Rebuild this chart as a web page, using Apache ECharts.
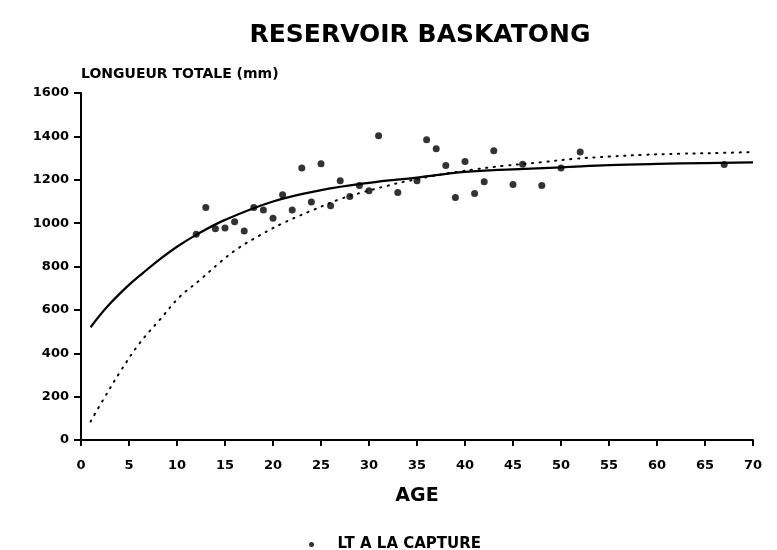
<!DOCTYPE html>
<html>
<head>
<meta charset="utf-8">
<script src="https://cdn.jsdelivr.net/npm/echarts@6/dist/echarts.min.js"></script>
<style>html,body{margin:0;padding:0;background:#fff}#c{width:777px;height:550px}</style>
</head>
<body>
<div id="c"></div>
<script>
// Observed lengths at capture: [age, length mm]
const capturePoints = [
  [12, 949], [13, 1072], [14, 974], [15, 977], [16, 1006], [17, 964],
  [18, 1072], [19, 1060], [20, 1023], [21, 1131], [22, 1060], [23, 1254],
  [24, 1097], [25, 1274], [26, 1080], [27, 1195], [28, 1123], [29, 1174],
  [30, 1149], [31, 1403], [33, 1141], [35, 1195], [36, 1384], [37, 1343],
  [38, 1266], [39, 1118], [40, 1284], [41, 1137], [42, 1191], [43, 1334],
  [45, 1178], [46, 1272], [48, 1174], [50, 1254], [52, 1328], [67, 1270]
];
// Solid growth curve
const solidCurve = [
  [1, 520], [2.7, 613], [4.8, 707], [6.5, 772], [8.2, 833], [10, 891],
  [12, 946], [15, 1015], [20, 1100], [25, 1152], [30, 1186], [35, 1210],
  [40, 1236], [45, 1248], [50, 1257], [55, 1267], [60, 1273], [65, 1277], [70, 1280]
];
// Dotted growth curve
const dottedCurve = [
  [1, 85], [2.3, 185], [4.2, 323], [6.1, 446], [8.2, 554], [10.3, 661],
  [12.4, 738], [14.5, 820], [16.4, 885], [18.6, 943], [20.9, 997], [22.6, 1031],
  [24.2, 1061], [26.8, 1108], [29.4, 1143], [31.9, 1172], [33.8, 1192],
  [36.4, 1215], [38.4, 1231], [41, 1248], [44, 1264], [48, 1281], [51.5, 1297],
  [55.1, 1307], [58.6, 1315], [62.4, 1320], [66.9, 1324], [70, 1328]
];
const xTicks = [0,5,10,15,20,25,30,35,40,45,50,55,60,65,70];
const yTicks = [0,200,400,600,800,1000,1200,1400,1600];

const FONT = 'DejaVu Sans';
const chart = echarts.init(document.getElementById('c'), null, {renderer: 'canvas'});
chart.setOption({
  backgroundColor: '#ffffff',
  animation: false,
  title: {
    text: 'RESERVOIR BASKATONG',
    left: 415, top: 18, textAlign: 'center',
    textStyle: {fontFamily: FONT, fontWeight: 'bold', fontSize: 25, color: '#000'}
  },
  grid: {left: 81, right: 24, top: 93, bottom: 110, containLabel: false},
  legend: {
    left: 304, top: 532,
    itemWidth: 10, itemHeight: 5, itemGap: 10,
    textStyle: {fontFamily: FONT, fontWeight: 'bold', fontSize: 15, color: '#000', padding: [0, 0, 0, 16]},
    data: [{name: 'LT A LA CAPTURE', icon: 'circle'}]
  },
  xAxis: {
    type: 'value', min: 0, max: 70, interval: 5,
    name: 'AGE', nameLocation: 'middle', nameGap: 47,
    nameTextStyle: {fontFamily: FONT, fontWeight: 'bold', fontSize: 19, color: '#000'},
    axisLine: {show: true, onZero: false, lineStyle: {color: '#000', width: 2}},
    axisTick: {show: true, length: 6, inside: false, lineStyle: {color: '#000', width: 2}},
    axisLabel: {
      margin: 19, color: '#000', fontFamily: FONT, fontWeight: 'bold', fontSize: 13,
      formatter: v => xTicks.includes(v) ? String(v) : ''
    },
    splitLine: {show: false}
  },
  yAxis: {
    type: 'value', min: 0, max: 1600, interval: 200,
    name: 'LONGUEUR TOTALE (mm)', nameLocation: 'end', nameGap: 12,
    nameTextStyle: {fontFamily: FONT, fontWeight: 'bold', fontSize: 14, color: '#000', align: 'left'},
    axisLine: {show: true, lineStyle: {color: '#000', width: 2}},
    axisTick: {show: true, length: 7, lineStyle: {color: '#000', width: 2}},
    axisLabel: {
      margin: 12, color: '#000', fontFamily: FONT, fontWeight: 'bold', fontSize: 13,
      formatter: v => yTicks.includes(v) ? String(v) : ''
    },
    splitLine: {show: false}
  },
  series: [
    {
      name: 'solid', type: 'line', data: solidCurve, smooth: 0.4,
      showSymbol: false, symbol: 'none',
      lineStyle: {color: '#000', width: 2.2}, z: 3
    },
    {
      name: 'dotted', type: 'line', data: dottedCurve, smooth: 0.4,
      showSymbol: false, symbol: 'none',
      lineStyle: {color: '#000', width: 2, type: [1.2, 6.5], cap: 'round'}, z: 3
    },
    {
      name: 'LT A LA CAPTURE', type: 'scatter', data: capturePoints,
      symbol: 'circle', symbolSize: 7,
      itemStyle: {color: '#000'}, z: 4
    }
  ]
});
</script>
</body>
</html>
